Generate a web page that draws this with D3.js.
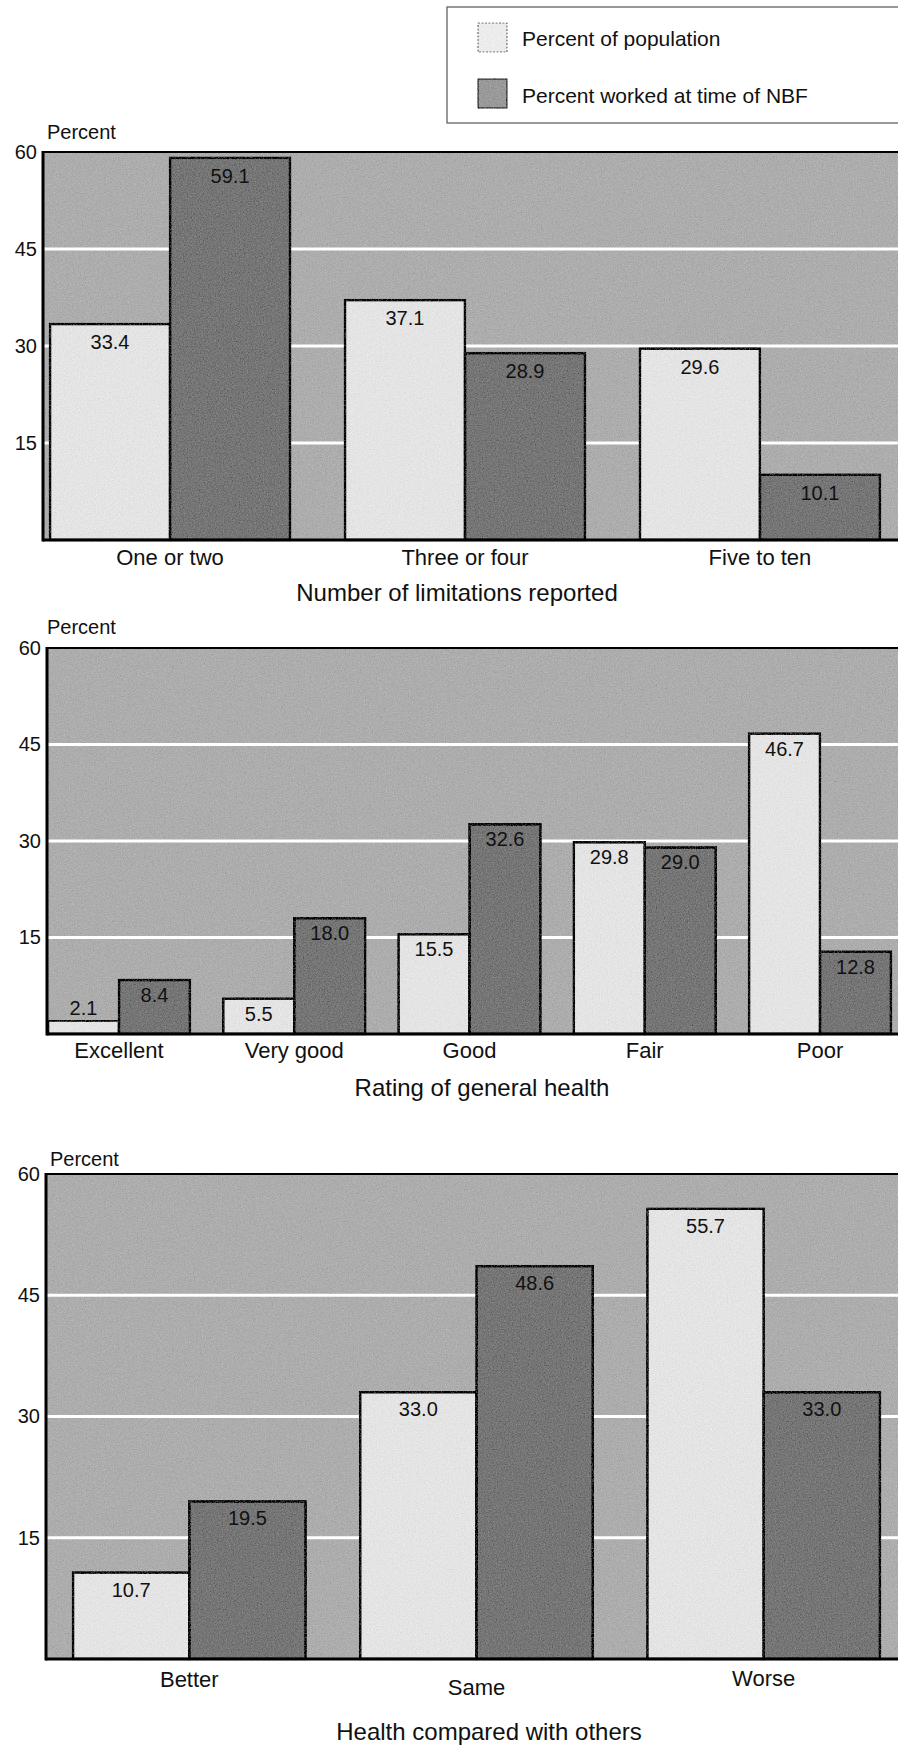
<!DOCTYPE html>
<html>
<head>
<meta charset="utf-8">
<script src="https://cdn.jsdelivr.net/npm/d3@7/dist/d3.min.js"></script>
<style>
  html, body { margin: 0; padding: 0; background: #ffffff; }
  svg { display: block; }
  text { font-family: "Liberation Sans", Arial, Helvetica, sans-serif; fill: #111; }
</style>
</head>
<body>
<svg id="chart" width="898" height="1747"></svg>
<script>
// ---------------- DATA ----------------
const seriesNames = ["Percent of population", "Percent worked at time of NBF"];
const yTickValues = [15, 30, 45, 60];
const yAxisLabel = "Percent";

const limitCategories = ["One or two", "Three or four", "Five to ten"];
const limitPopulation = [33.4, 37.1, 29.6];
const limitWorked = [59.1, 28.9, 10.1];
const limitTitle = "Number of limitations reported";

const healthCategories = ["Excellent", "Very good", "Good", "Fair", "Poor"];
const healthPopulation = [2.1, 5.5, 15.5, 29.8, 46.7];
const healthWorked = [8.4, 18.0, 32.6, 29.0, 12.8];
const healthTitle = "Rating of general health";

const compareCategories = ["Better", "Same", "Worse"];
const comparePopulation = [10.7, 33.0, 55.7];
const compareWorked = [19.5, 48.6, 33.0];
const compareTitle = "Health compared with others";

// ---------------- STYLE / LAYOUT ----------------
const COLORS = { bg: "#adadad", light: "#e4e4e4", dark: "#767676", grid: "#ffffff" };
const svg = d3.select("#chart");

// printed-halftone grain, masked to the shape
const defs = svg.append("defs");
const f = defs.append("filter").attr("id", "grain")
  .attr("x", "-3%").attr("y", "-3%").attr("width", "106%").attr("height", "106%");
f.append("feTurbulence").attr("type", "fractalNoise").attr("baseFrequency", "0.75")
  .attr("numOctaves", 2).attr("seed", 7).attr("result", "n");
f.append("feColorMatrix").attr("in", "n").attr("type", "matrix")
  .attr("values", "0.33 0.33 0.33 0 0  0.33 0.33 0.33 0 0  0.33 0.33 0.33 0 0  0 0 0 0 1")
  .attr("result", "g");
f.append("feComposite").attr("in", "SourceGraphic").attr("in2", "g")
  .attr("operator", "arithmetic").attr("k1", 0).attr("k2", 1).attr("k3", 0.4).attr("k4", -0.2)
  .attr("result", "ar");
f.append("feComposite").attr("in", "ar").attr("in2", "SourceGraphic").attr("operator", "in");

const panels = [
  { cats: limitCategories, pop: limitPopulation, work: limitWorked, title: limitTitle,
    top: 152, bottom: 540, axisX: 43, bandStart: 50, bandEnd: 880, padIn: 0.186,
    labelY: 25, labelDy: [0, 0, 0], titleX: 457, titleY: 601, pctX: 47, pctY: 139, valOff: 25 },
  { cats: healthCategories, pop: healthPopulation, work: healthWorked, title: healthTitle,
    top: 648, bottom: 1034, axisX: 47, bandStart: 48, bandEnd: 891, padIn: 0.19,
    labelY: 24, labelDy: [0, 0, 0, 0, 0], titleX: 482, titleY: 1096, pctX: 47, pctY: 634, valOff: 22 },
  { cats: compareCategories, pop: comparePopulation, work: compareWorked, title: compareTitle,
    top: 1174, bottom: 1659, axisX: 46, bandStart: 73, bandEnd: 880, padIn: 0.19,
    labelY: 28, labelDy: [0, 8, -1], titleX: 489, titleY: 1740, pctX: 50, pctY: 1166, valOff: 24 }
];

const plotRight = 905;

panels.forEach(p => {
  const g = svg.append("g");
  const y = d3.scaleLinear().domain([0, 60]).range([p.bottom, p.top]);
  const x = d3.scaleBand().domain(p.cats).range([p.bandStart, p.bandEnd])
    .paddingInner(p.padIn).paddingOuter(0);
  const xs = d3.scaleBand().domain([0, 1]).range([0, x.bandwidth()]);

  // background
  g.append("rect").attr("x", p.axisX).attr("y", p.top)
    .attr("width", plotRight - p.axisX).attr("height", p.bottom - p.top)
    .attr("fill", COLORS.bg).attr("filter", "url(#grain)");

  // gridlines
  g.selectAll("line.grid").data(yTickValues.filter(v => v < 60)).enter()
    .append("line").attr("class", "grid")
    .attr("x1", p.axisX).attr("x2", plotRight)
    .attr("y1", d => y(d)).attr("y2", d => y(d))
    .attr("stroke", COLORS.grid).attr("stroke-width", 3);

  // bars
  const rows = p.cats.map((c, i) => ({ cat: c, vals: [p.pop[i], p.work[i]] }));
  const grp = g.selectAll("g.cat").data(rows).enter().append("g")
    .attr("transform", d => `translate(${x(d.cat)},0)`);
  grp.selectAll("rect").data(d => d.vals.map((v, k) => ({ v, k }))).enter()
    .append("rect")
    .attr("x", d => xs(d.k)).attr("y", d => y(d.v))
    .attr("width", xs.bandwidth()).attr("height", d => y(0) - y(d.v))
    .attr("fill", d => d.k === 0 ? COLORS.light : COLORS.dark)
    .attr("filter", "url(#grain)")
    .attr("stroke", "#000").attr("stroke-width", 2.5);
  grp.selectAll("text").data(d => d.vals.map((v, k) => ({ v, k }))).enter()
    .append("text")
    .attr("x", d => xs(d.k) + xs.bandwidth() / 2)
    .attr("y", d => d.v < 4 ? y(d.v) - 5 : y(d.v) + p.valOff)
    .attr("text-anchor", "middle")
    .style("font-size", "20px")
    .text(d => d.v.toFixed(1));

  // frame
  g.append("line").attr("x1", p.axisX).attr("x2", plotRight).attr("y1", p.top).attr("y2", p.top)
    .attr("stroke", "#000").attr("stroke-width", 2);
  g.append("line").attr("x1", p.axisX).attr("x2", plotRight).attr("y1", p.bottom).attr("y2", p.bottom)
    .attr("stroke", "#000").attr("stroke-width", 3);
  g.append("line").attr("x1", p.axisX).attr("x2", p.axisX).attr("y1", p.top - 1).attr("y2", p.bottom + 1.5)
    .attr("stroke", "#000").attr("stroke-width", 3);

  // y axis
  const ax = g.append("g").attr("transform", `translate(${p.axisX},0)`)
    .call(d3.axisLeft(y).tickValues(yTickValues).tickSize(0).tickPadding(6));
  ax.select(".domain").remove();
  ax.selectAll("text").style("font-size", "20px").style("font-family", "Liberation Sans, Arial, sans-serif")
    .attr("fill", "#111");

  g.append("text").attr("x", p.pctX).attr("y", p.pctY).style("font-size", "20px").text(yAxisLabel);

  // category labels
  g.selectAll("text.cat").data(p.cats).enter().append("text").attr("class", "cat")
    .attr("x", d => x(d) + x.bandwidth() / 2)
    .attr("y", (d, i) => p.bottom + p.labelY + p.labelDy[i])
    .attr("text-anchor", "middle").style("font-size", "22px").text(d => d);

  g.append("text").attr("x", p.titleX).attr("y", p.titleY).attr("text-anchor", "middle")
    .style("font-size", "24px").text(p.title);
});

// legend
const lg = svg.append("g");
lg.append("rect").attr("x", 447).attr("y", 7).attr("width", 470).attr("height", 116)
  .attr("fill", "#fff").attr("stroke", "#555").attr("stroke-width", 1.2);
const legendRows = seriesNames.map((n, i) => ({ n, i }));
lg.selectAll("rect.sw").data(legendRows).enter().append("rect").attr("class", "sw")
  .attr("x", 478).attr("y", d => 23 + d.i * 56).attr("width", 29).attr("height", 29)
  .attr("fill", d => d.i === 0 ? "#ececec" : "#9a9a9a")
  .attr("filter", "url(#grain)")
  .attr("stroke", d => d.i === 0 ? "#666" : "#222").attr("stroke-width", 1.2)
  .attr("stroke-dasharray", d => d.i === 0 ? "2,1.5" : null);
lg.selectAll("text.lt").data(legendRows).enter().append("text").attr("class", "lt")
  .attr("x", 522).attr("y", d => 46 + d.i * 57).style("font-size", "21px").text(d => d.n);
</script>
</body>
</html>
